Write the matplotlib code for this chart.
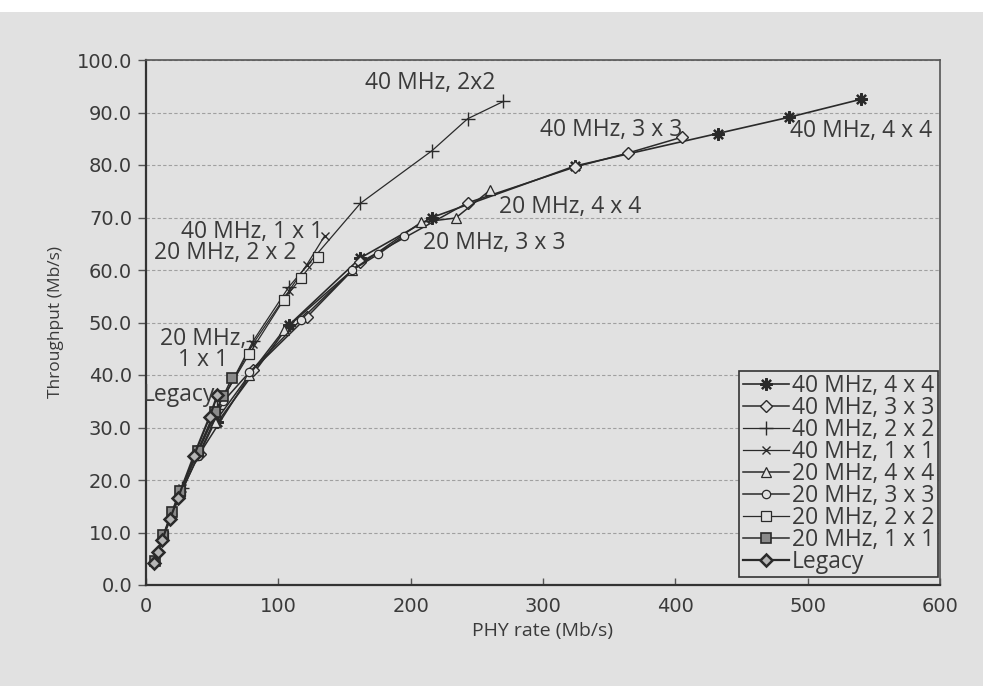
import matplotlib
matplotlib.use("Agg")
import matplotlib.pyplot as plt
from matplotlib.patches import Rectangle

# ---------------- data ----------------
series_names = ["40 MHz, 4 x 4", "40 MHz, 3 x 3", "40 MHz, 2 x 2", "40 MHz, 1 x 1",
                "20 MHz, 4 x 4", "20 MHz, 3 x 3", "20 MHz, 2 x 2", "20 MHz, 1 x 1", "Legacy"]

x_40_4x4 = [54, 108, 162, 216, 324, 432, 486, 540]
y_40_4x4 = [31.0, 49.5, 62.3, 70.0, 79.8, 86.0, 89.1, 92.5]

x_40_3x3 = [40.5, 81, 121.5, 162, 243, 324, 364.5, 405]
y_40_3x3 = [25.0, 41.0, 51.0, 61.5, 72.8, 79.6, 82.3, 85.3]

x_40_2x2 = [27, 54, 81, 108, 162, 216, 243, 270]
y_40_2x2 = [18.5, 33.5, 46.5, 56.8, 72.7, 82.7, 88.8, 92.1]

x_40_1x1 = [13.5, 27, 40.5, 54, 81, 108, 121.5, 135]
y_40_1x1 = [9.5, 18.5, 26.0, 33.5, 46.0, 56.0, 61.0, 66.5]

x_20_4x4 = [26, 52, 78, 104, 156, 208, 234, 260]
y_20_4x4 = [17.5, 31.0, 40.0, 48.5, 60.0, 69.1, 69.9, 75.2]

x_20_3x3 = [19.5, 39, 58.5, 78, 117, 156, 175.5, 195]
y_20_3x3 = [13.5, 24.5, 35.0, 40.5, 50.5, 60.0, 63.0, 66.5]

x_20_2x2 = [13, 26, 39, 52, 78, 104, 117, 130]
y_20_2x2 = [9.3, 18.0, 25.5, 33.0, 44.0, 54.3, 58.5, 62.5]

x_20_1x1 = [6.5, 13, 19.5, 26, 39, 52, 58.5, 65]
y_20_1x1 = [4.5, 9.5, 14.0, 18.0, 25.5, 33.0, 36.0, 39.5]

x_legacy = [6, 9, 12, 18, 24, 36, 48, 54]
y_legacy = [4.2, 6.3, 8.5, 12.5, 16.5, 24.5, 32.0, 36.2]

x_ticks = [0, 100, 200, 300, 400, 500, 600]
y_ticks = [0, 10, 20, 30, 40, 50, 60, 70, 80, 90, 100]

# ---------------- style ----------------
paper = "#e1e1e1"
ink = "#2a2a2a"
txt = "#3a3a3a"
main_font = ["Open Sans", "DejaVu Sans"]
tick_font = ["DejaVu Sans"]
FS = 16.5

fig = plt.figure(figsize=(9.83, 6.86), dpi=100, facecolor=paper)
fig.patches.append(Rectangle((0, 1 - 12 / 686), 1, 12 / 686, transform=fig.transFigure,
                             facecolor="white", edgecolor="none", zorder=-1))
ax = fig.add_axes([146 / 983, 101 / 686, 794 / 983, 525 / 686])
ax.set_facecolor(paper)

star = (8, 2, 0)
specs = [
    (x_40_4x4, y_40_4x4, dict(marker=star, ms=9, mew=1.6, mfc=ink, mec=ink, lw=1.2)),
    (x_40_3x3, y_40_3x3, dict(marker="D", ms=6.5, mew=1.0, mfc=paper, mec=ink, lw=1.1)),
    (x_40_2x2, y_40_2x2, dict(marker="+", ms=10, mew=1.0, mec=ink, lw=0.9)),
    (x_40_1x1, y_40_1x1, dict(marker="x", ms=6, mew=1.0, mec=ink, lw=0.9)),
    (x_20_4x4, y_20_4x4, dict(marker="^", ms=7.5, mew=0.9, mfc=paper, mec=ink, lw=1.1)),
    (x_20_3x3, y_20_3x3, dict(marker="o", ms=6, mew=0.9, mfc=paper, mec=ink, lw=1.1)),
    (x_20_2x2, y_20_2x2, dict(marker="s", ms=6.5, mew=0.9, mfc=paper, mec=ink, lw=0.9)),
    (x_20_1x1, y_20_1x1, dict(marker="s", ms=6.5, mew=1.2, mfc="#8a8a8a", mec=ink, lw=1.1)),
    (x_legacy, y_legacy, dict(marker="D", ms=6.5, mew=1.8, mfc="#b5b5b5", mec=ink, lw=1.6)),
]
for (xs, ys, kw), name in zip(specs, series_names):
    ax.plot(xs, ys, color=ink, label=name, zorder=3, **kw)

ax.set_xlim(0, 600)
ax.set_ylim(0, 100)
ax.set_xticks(x_ticks)
ax.set_yticks(y_ticks)
ax.set_xticklabels([str(v) for v in x_ticks], family=tick_font, fontsize=14, color=txt)
ax.set_yticklabels([f"{v:.1f}" for v in y_ticks], family=tick_font, fontsize=14, color=txt)
ax.tick_params(axis="y", direction="out", length=6, width=1, color="#555555", pad=4)
ax.tick_params(axis="x", direction="in", length=5, width=1, color="#555555", pad=9)
ax.grid(axis="y", color="#a0a0a0", lw=0.8, ls=(0, (3, 2)))
for side in ["left", "bottom"]:
    ax.spines[side].set_color("#333333")
    ax.spines[side].set_linewidth(1.6)
for side in ["top", "right"]:
    ax.spines[side].set_color("#555555")
    ax.spines[side].set_linewidth(1.2)

ax.set_xlabel("PHY rate (Mb/s)", family=main_font, fontsize=14, color=txt, labelpad=4)
ax.set_ylabel("Throughput (Mb/s)", family=main_font, fontsize=12.5, color=txt, labelpad=9)

ann = dict(family=main_font, fontsize=FS, color=txt, zorder=6)
ax.text(215, 95.6, "40 MHz, 2x2", ha="center", va="center", **ann)
ax.text(405, 86.7, "40 MHz, 3 x 3", ha="right", va="center", **ann)
ax.text(487, 86.5, "40 MHz, 4 x 4", ha="left", va="center", **ann)
ax.text(267, 72.0, "20 MHz, 4 x 4", ha="left", va="center", **ann)
ax.text(209, 65.1, "20 MHz, 3 x 3", ha="left", va="center", **ann)
ax.text(134, 67.3, "40 MHz, 1 x 1", ha="right", va="center", **ann)
ax.text(114, 63.2, "20 MHz, 2 x 2", ha="right", va="center", **ann)
ax.text(43, 44.9, "20 MHz,\n1 x 1", ha="center", va="center", linespacing=0.85, **ann)
ax.text(52.5, 36.2, "Legacy", ha="right", va="center", **ann)

leg = ax.legend(loc="lower right", bbox_to_anchor=(0.9975, 0.0152), borderaxespad=0,
                prop=dict(family=main_font, size=FS), labelspacing=-0.09,
                handlelength=2.0, handletextpad=0.15, borderpad=0.15,
                frameon=True, fancybox=False, edgecolor="#333333", facecolor=paper,
                framealpha=1)
for t in leg.get_texts():
    t.set_color(txt)
leg.get_frame().set_linewidth(1.2)

fig.savefig("out.png", dpi=100, facecolor=paper)
